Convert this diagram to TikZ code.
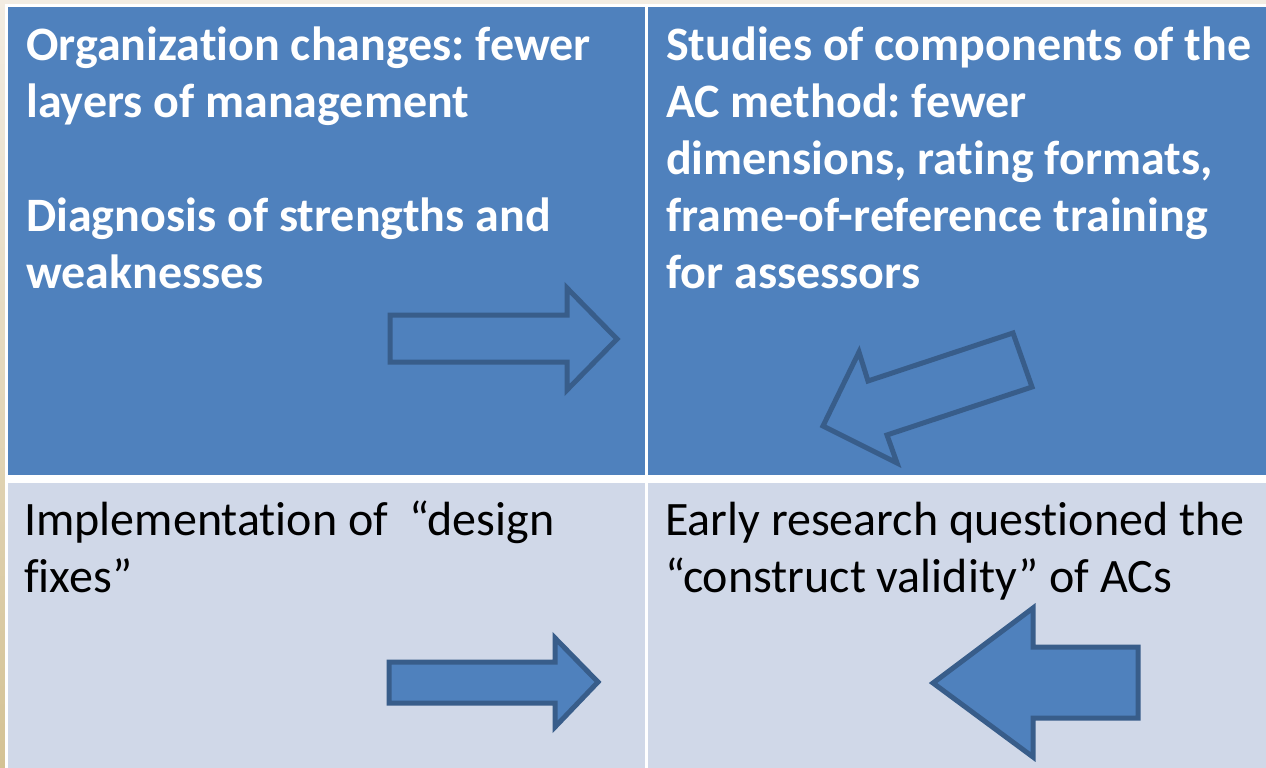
\documentclass[tikz,border=0pt]{standalone}
\usepackage{fontspec}
\setmainfont{Carlito}[Ligatures=NoCommon]
\frenchspacing
\definecolor{cellblue}{HTML}{4F81BD}
\definecolor{celllight}{HTML}{D0D8E8}
\definecolor{arrowedge}{HTML}{385D8A}
\definecolor{bgtop}{HTML}{F2ECE2}
\definecolor{bgbottom}{HTML}{D4C294}

\begin{document}
\begin{tikzpicture}[
                x=1pt, y=-1pt,
                topcell/.style={
                    fill=cellblue,
                    inner sep=0,
                    anchor=north west,
                    minimum width=637pt
                },
                botcell/.style={
                    fill=celllight,
                    inner sep=0,
                    anchor=north west,
                    minimum width=637pt
                },
                toptext/.style={
                    text=white,
                    font=\fontsize{48}{57}\selectfont\bfseries,
                    align=left,
                    anchor=base west,
                    inner sep=0
                },
                bottext/.style={
                    text=black,
                    font=\fontsize{48}{57}\selectfont,
                    align=left,
                    anchor=base west,
                    inner sep=0
                },
                hollowarrow/.style={
                    draw=arrowedge,
                    line width=5pt,
                    line join=miter
                },
                fullarrow/.style={
                    hollowarrow,
                    fill=cellblue
                }
            ]
            % page and table frame
            \shade[top color=bgtop, bottom color=bgbottom] (0,0) rectangle (1266,768);
            \fill[white] (5,4) rectangle (1266,768);
            \useasboundingbox (0,0) rectangle (1266,768);

            % the four cells
            \node[topcell, minimum height=468pt] (tl) at (8,7) {};
            \node[topcell, minimum height=468pt] (tr) at (648,7) {};
            \node[botcell, minimum height=285pt] (bl) at (8,483) {};
            \node[botcell, minimum height=285pt] (br) at (648,483) {};

            % texts (anchored at the baseline of their last line)
            \node[toptext] (tltext) at (26,288)
                {Organization changes: fewer\\
                 layers of management\\[57pt]
                 Diagnosis of strengths and\\
                 weaknesses};
            \node[toptext] (trtext) at (666,288)
                {Studies of components of the\\
                 AC method: fewer\\
                 dimensions, rating formats,\\
                 frame-of-reference training\\
                 for assessors};
            \node[bottext] (bltext) at (24,592)
                {Implementation of\ \ “design\\
                 fixes”};
            \node[bottext] (brtext) at (665,592)
                {Early research questioned the\\
                 “construct validity” of ACs};

            % arrows
            \draw[hollowarrow] (390,315) -- (567,315) -- (567,288) -- (617,339)
                -- (567,390) -- (567,362) -- (390,362) -- cycle;
            \draw[hollowarrow] (1013,333) -- (1032,387) -- (887,435) -- (897,463)
                -- (823,426) -- (859,352) -- (868,381) -- cycle;
            \draw[fullarrow] (389,662) -- (555,662) -- (555,638) -- (598,682)
                -- (555,727) -- (555,703) -- (389,703) -- cycle;
            \draw[fullarrow] (1138,647) -- (1033,647) -- (1033,608) -- (933,683)
                -- (1033,757) -- (1033,718) -- (1138,718) -- cycle;
\end{tikzpicture}
\end{document}
